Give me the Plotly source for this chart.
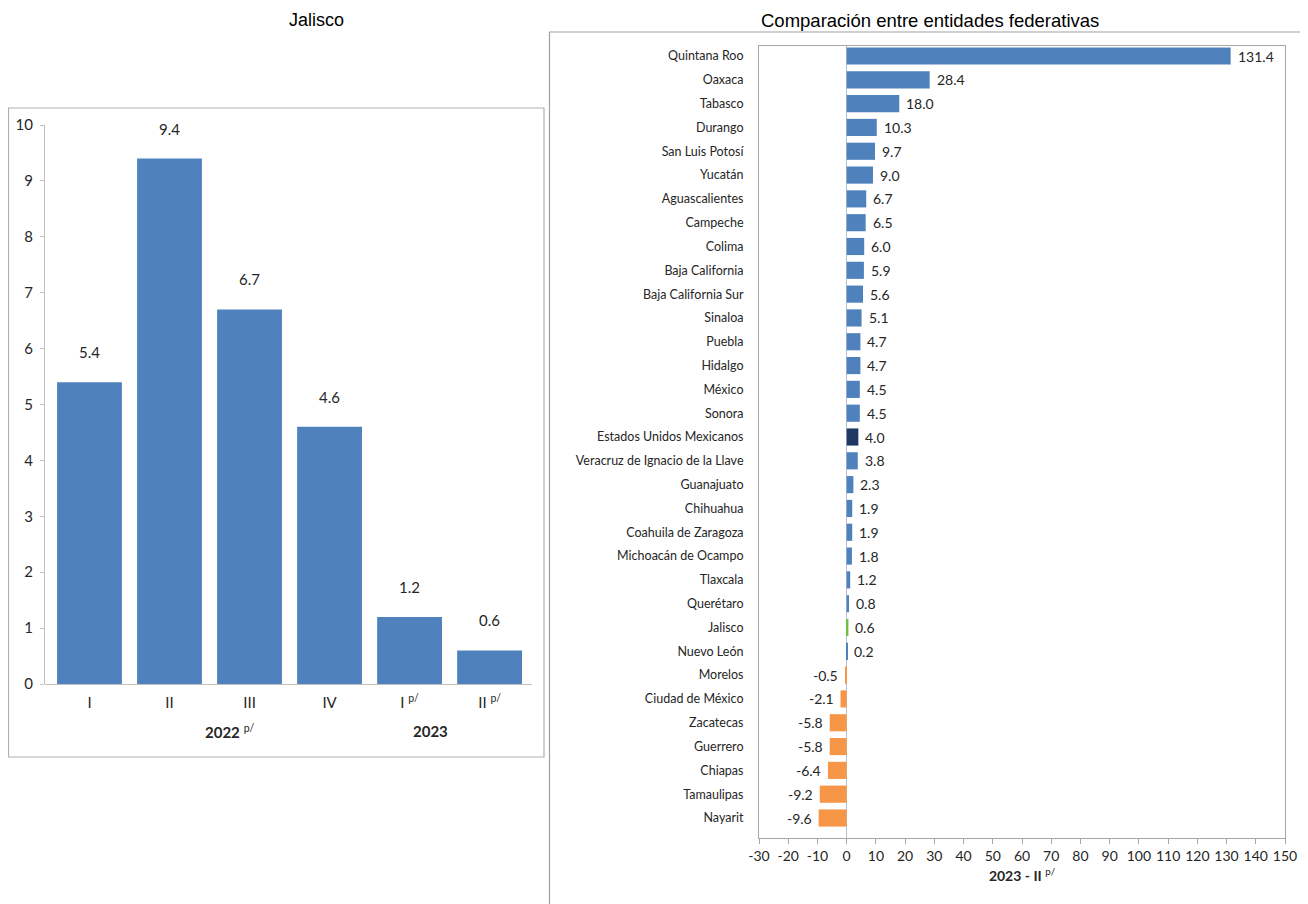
import plotly.graph_objects as go

# ---------------- data ----------------
quarters = ["I", "II", "III", "IV", "I <sup>p/</sup>", "II <sup>p/</sup>"]
jalisco_vals = [5.4, 9.4, 6.7, 4.6, 1.2, 0.6]
year_labels = ["<b>2022</b> <sup>p/</sup>", "<b>2023</b>"]

states = ["Quintana Roo", "Oaxaca", "Tabasco", "Durango", "San Luis Potosí", "Yucatán",
          "Aguascalientes", "Campeche", "Colima", "Baja California", "Baja California Sur",
          "Sinaloa", "Puebla", "Hidalgo", "México", "Sonora", "Estados Unidos Mexicanos",
          "Veracruz de Ignacio de la Llave", "Guanajuato", "Chihuahua", "Coahuila de Zaragoza",
          "Michoacán de Ocampo", "Tlaxcala", "Querétaro", "Jalisco", "Nuevo León", "Morelos",
          "Ciudad de México", "Zacatecas", "Guerrero", "Chiapas", "Tamaulipas", "Nayarit"]
state_vals = [131.4, 28.4, 18.0, 10.3, 9.7, 9.0, 6.7, 6.5, 6.0, 5.9, 5.6, 5.1, 4.7, 4.7,
              4.5, 4.5, 4.0, 3.8, 2.3, 1.9, 1.9, 1.8, 1.2, 0.8, 0.6, 0.2, -0.5, -2.1,
              -5.8, -5.8, -6.4, -9.2, -9.6]

x2_tickvals = [-30, -20, -10, 0, 10, 20, 30, 40, 50, 60, 70, 80, 90,
               100, 110, 120, 130, 140, 150]
x2_ticktext = ["-30", "-20", "-10", "0", "10", "20", "30", "40", "50", "60", "70", "80",
               "90", "100", "110", "120", "130", "140", "150"]

# ---------------- styling ----------------
# the page body has an 8px margin, so the figure is 8px smaller and all
# window coordinates are shifted by 8px
OFF = 8
W, H = 1308 - OFF, 904 - OFF
BLUE = "#4f81bd"
NAVY = "#1f3864"
GREEN = "#6cc04a"
ORANGE = "#f79646"
TXT = "#262626"
FONT = "Lato"


def px_x(p):
    return (p - OFF) / W


def px_y(p):
    return 1 - (p - OFF) / H


state_colors = []
for s, v in zip(states, state_vals):
    if s == "Estados Unidos Mexicanos":
        state_colors.append(NAVY)
    elif s == "Jalisco":
        state_colors.append(GREEN)
    elif v < 0:
        state_colors.append(ORANGE)
    else:
        state_colors.append(BLUE)

fig = go.Figure()

fig.add_trace(go.Bar(
    x=quarters, y=jalisco_vals, marker=dict(color=BLUE, line=dict(width=0)),
    width=0.81, xaxis="x", yaxis="y", showlegend=False, hoverinfo="x+y",
))

fig.add_trace(go.Bar(
    y=states, x=state_vals, orientation="h",
    marker=dict(color=state_colors, line=dict(width=0)),
    width=0.72, xaxis="x2", yaxis="y2", showlegend=False, hoverinfo="x+y",
))

annotations = []
# left data labels
for q, v in zip(quarters, jalisco_vals):
    annotations.append(dict(x=q, y=v, xref="x", yref="y", text=f"{v:.1f}",
                            showarrow=False, xanchor="center", yanchor="bottom", yshift=19,
                            font=dict(family=FONT, size=15, color=TXT)))
# year labels
annotations.append(dict(x=px_x(230), y=px_y(731), xref="paper", yref="paper",
                        text=year_labels[0], showarrow=False,
                        xanchor="center", yanchor="middle",
                        font=dict(family=FONT, size=15, color=TXT)))
annotations.append(dict(x=px_x(430), y=px_y(731), xref="paper", yref="paper",
                        text=year_labels[1], showarrow=False,
                        xanchor="center", yanchor="middle",
                        font=dict(family=FONT, size=15, color=TXT)))
# right data labels
for s, v in zip(states, state_vals):
    annotations.append(dict(x=v, y=s, xref="x2", yref="y2", text=f"{v:.1f}",
                            showarrow=False, yanchor="middle",
                            xanchor="left" if v >= 0 else "right",
                            xshift=5 if v >= 0 else -5,
                            font=dict(family=FONT, size=14, color=TXT)))
# titles
annotations.append(dict(x=px_x(316), y=px_y(9), xref="paper", yref="paper",
                        text="Jalisco", showarrow=False,
                        xanchor="center", yanchor="top", borderpad=0,
                        font=dict(family="Liberation Sans", size=18, color="#000000")))
annotations.append(dict(x=px_x(930), y=px_y(9), xref="paper", yref="paper",
                        text="Comparación entre entidades federativas", showarrow=False,
                        xanchor="center", yanchor="top", borderpad=0,
                        font=dict(family="Liberation Sans", size=18.5, color="#000000")))

shapes = [
    dict(type="rect", xref="paper", yref="paper",
         x0=px_x(8.5), x1=px_x(544), y0=px_y(757), y1=px_y(108),
         line=dict(color="#b0b0b0", width=1.2), fillcolor="rgba(0,0,0,0)", layer="below"),
    dict(type="rect", xref="paper", yref="paper",
         x0=px_x(549.5), x1=px_x(1305), y0=px_y(910), y1=px_y(32),
         line=dict(color="#a0a0a0", width=1.2), fillcolor="rgba(0,0,0,0)", layer="below"),
]

fig.update_layout(
    width=W, height=H,
    margin=dict(l=0, r=0, t=0, b=0, pad=0, autoexpand=False),
    paper_bgcolor="white", plot_bgcolor="white",
    font=dict(family=FONT, color=TXT),
    bargap=0.2,
    annotations=annotations,
    shapes=shapes,
    xaxis=dict(domain=[px_x(45), px_x(532)], range=[-0.556, 5.53],
               showline=False, ticks="", showgrid=False, zeroline=False, automargin=False,
               tickfont=dict(family=FONT, size=15, color=TXT), ticklabelstandoff=8,
               fixedrange=True),
    yaxis=dict(domain=[px_y(684), px_y(125)], range=[0, 10], dtick=1,
               showline=True, linecolor="#bfbfbf", linewidth=1, automargin=False,
               ticks="outside", ticklen=4, tickcolor="#bfbfbf",
               showgrid=False, zeroline=True, zerolinecolor="#bfbfbf", zerolinewidth=1,
               tickfont=dict(family=FONT, size=15, color=TXT), ticklabelstandoff=4,
               fixedrange=True),
    xaxis2=dict(domain=[px_x(759), px_x(1285)], range=[-30, 150],
                tickmode="array", tickvals=x2_tickvals, ticktext=x2_ticktext,
                anchor="y2", showline=True, mirror=True, linecolor="#a6a6a6", linewidth=1,
                ticks="outside", ticklen=5, tickcolor="#a6a6a6", automargin=False,
                showgrid=False, zeroline=True, zerolinecolor="#b4c0d4", zerolinewidth=1,
                tickfont=dict(family=FONT, size=14, color=TXT),
                title=dict(text="<b>2023 - II</b> <sup>p/</sup>", standoff=8,
                           font=dict(family=FONT, size=14, color=TXT)),
                fixedrange=True),
    yaxis2=dict(domain=[px_y(838), px_y(46)], range=[32.84, -0.42],
                anchor="x2", type="category", showline=True, mirror=True, automargin=False,
                linecolor="#a6a6a6", linewidth=1, ticks="", showgrid=False,
                tickfont=dict(family=FONT, size=12.5, color=TXT), ticklabelstandoff=12,
                fixedrange=True),
)

fig.write_html("out.html")
